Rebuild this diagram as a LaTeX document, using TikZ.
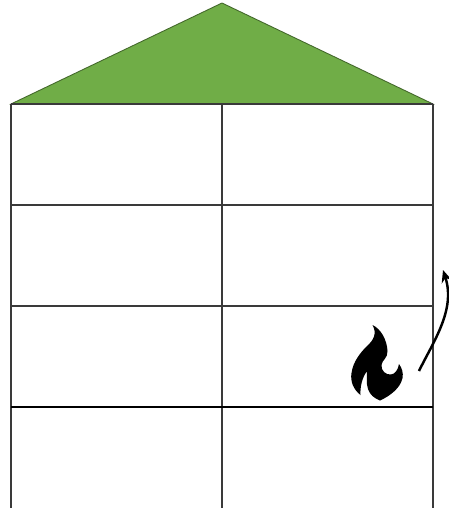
\documentclass[tikz,border=0pt]{standalone}
\usetikzlibrary{arrows.meta}
\definecolor{figRoof}{HTML}{70AD47}
\definecolor{figWall}{HTML}{3A3A3A}

\begin{document}
\begin{tikzpicture}[x=0.02cm,y=-0.02cm,>={Stealth[length=7pt,width=6pt]}]
\useasboundingbox (0,0) rectangle (449,508);
\fill[white] (0,0) rectangle (449,508);
% Teulada
\coordinate (A) at (222,3);
\coordinate (L) at (11,104);
\coordinate (M) at (222,104);
\coordinate (R) at (433,104);
\draw[figRoof!60!black,fill=figRoof,line width=0.5pt] (L) -- (A) -- (R) -- cycle;
% Parets i pisos
\draw[figWall,line width=0.75pt] (L) -- (11,508);
\draw[figWall,line width=0.75pt] (M) -- (222,508);
\draw[figWall,line width=0.75pt] (R) -- (433,508);
\draw[figWall,line width=0.6pt] (L) -- (R);
\draw[figWall,line width=0.6pt] (11,205) -- (433,205);
\draw[figWall,line width=0.6pt] (11,306) -- (433,306);
\draw[black,line width=0.6pt] (11,407) -- (433,407);
% Flama
\fill[black] (372.5,325) .. controls (381,329) and (387,340) .. (387.5,351)
  .. controls (388,358) and (382,360) .. (381.5,365)
  .. controls (381,371) and (386,375) .. (391,374.5)
  .. controls (395,374) and (398,370) .. (399,364)
  .. controls (402,368) and (403.5,373) .. (402.5,378)
  .. controls (400.5,388) and (390,396) .. (380,400.5)
  .. controls (374,398) and (370,395) .. (368,389)
  .. controls (366,383) and (367,376) .. (367,371)
  .. controls (362,378) and (360,387) .. (360.5,395)
  .. controls (354,390) and (350,382) .. (351.5,373)
  .. controls (353,362) and (360,353) .. (367,346)
  .. controls (374,340) and (377,333) .. (372.5,325) -- cycle;
% Fletxa
\coordinate (F1) at (419,371);
\coordinate (F2) at (443,270);
\draw[->,line width=1.4pt,black] (F1) .. controls (433,342) and (456,310) .. (F2);
\end{tikzpicture}
\end{document}
